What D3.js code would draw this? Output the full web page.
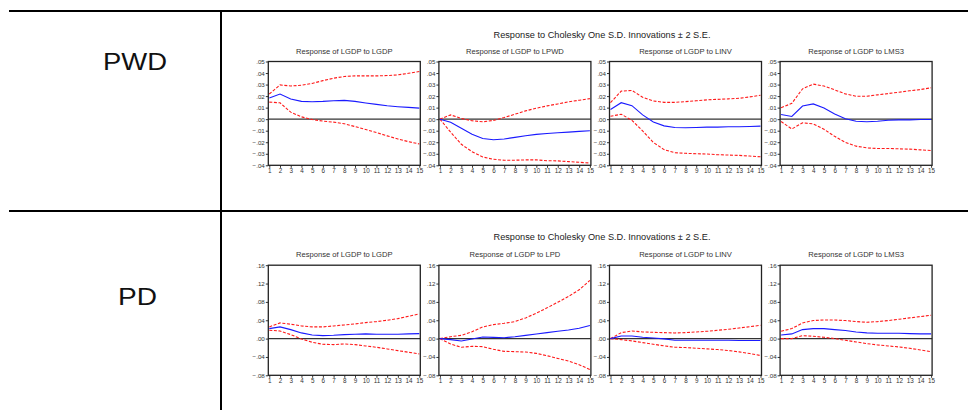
<!DOCTYPE html>
<html>
<head>
<meta charset="utf-8">
<script src="https://cdn.jsdelivr.net/npm/d3@7"></script>
<style>
  body { margin: 0; background: #fff; }
  text { font-family: "Liberation Sans", Arial, sans-serif; }
</style>
</head>
<body>
<div id="main"></div>
<script>
// ---------------- data --------------------------------------//

let periods = [1, 2, 3, 4, 5, 6, 7, 8, 9, 10, 11, 12, 13, 14, 15];
let rowLabels = ["PWD", "PD"];
let pwdShocks = ["LGDP", "LPWD", "LINV", "LMS3"];
let pdShocks = ["LGDP", "LPD", "LINV", "LMS3"];
let pwdTicks = [-0.04, -0.03, -0.02, -0.01, 0, 0.01, 0.02, 0.03, 0.04, 0.05];
let pdTicks = [-0.08, -0.04, 0, 0.04, 0.08, 0.12, 0.16];

// PWD row: response, upper band, lower band
let pwdResp = [
  [0.0183, 0.0218, 0.0174, 0.0154, 0.0151, 0.0154, 0.0160, 0.0163, 0.0154, 0.0140, 0.0128, 0.0116, 0.0108, 0.0102, 0.0096],
  [0, -0.0026, -0.0078, -0.0130, -0.0167, -0.0178, -0.0172, -0.0158, -0.0144, -0.0132, -0.0124, -0.0118, -0.0112, -0.0106, -0.0100],
  [0.0084, 0.0143, 0.0117, 0.0037, -0.0025, -0.0058, -0.0072, -0.0075, -0.0072, -0.0069, -0.0069, -0.0066, -0.0066, -0.0063, -0.0060],
  [0.0041, 0.0023, 0.0114, 0.0132, 0.0096, 0.0044, 0.0003, -0.0018, -0.0023, -0.0018, -0.0009, -0.0006, -0.0006, -0.0003, -0.0003]
];
let pwdUpper = [
  [0.0218, 0.0297, 0.0288, 0.0294, 0.0310, 0.0334, 0.0355, 0.0370, 0.0375, 0.0375, 0.0375, 0.0378, 0.0384, 0.0398, 0.0413],
  [0, 0.0037, 0.0006, -0.0014, -0.0023, -0.0011, 0.0014, 0.0043, 0.0072, 0.0095, 0.0115, 0.0132, 0.0150, 0.0164, 0.0178],
  [0.0143, 0.0243, 0.0249, 0.0190, 0.0158, 0.0146, 0.0146, 0.0152, 0.0160, 0.0167, 0.0172, 0.0176, 0.0181, 0.0193, 0.0208],
  [0.0099, 0.0137, 0.0263, 0.0304, 0.0287, 0.0254, 0.0219, 0.0199, 0.0199, 0.0211, 0.0222, 0.0234, 0.0246, 0.0257, 0.0272]
];
let pwdLower = [
  [0.0148, 0.0142, 0.0061, 0.0020, -0.0003, -0.0017, -0.0026, -0.0040, -0.0064, -0.0090, -0.0116, -0.0145, -0.0172, -0.0195, -0.0215],
  [0, -0.0112, -0.0218, -0.0282, -0.0328, -0.0348, -0.0356, -0.0356, -0.0353, -0.0353, -0.0360, -0.0362, -0.0368, -0.0374, -0.0380],
  [0.0025, 0.0043, -0.0010, -0.0102, -0.0202, -0.0264, -0.0291, -0.0296, -0.0300, -0.0302, -0.0308, -0.0311, -0.0314, -0.0320, -0.0326],
  [-0.0020, -0.0085, -0.0032, -0.0041, -0.0088, -0.0149, -0.0202, -0.0234, -0.0249, -0.0254, -0.0254, -0.0257, -0.0260, -0.0266, -0.0272]
];

// PD row: response, upper band, lower band
let pdResp = [
  [0.0218, 0.0255, 0.0196, 0.0124, 0.0080, 0.0065, 0.0073, 0.0087, 0.0095, 0.0102, 0.0095, 0.0095, 0.0095, 0.0102, 0.0109],
  [0, -0.0022, -0.0053, -0.0010, 0.0034, 0.0027, 0.0020, 0.0042, 0.0071, 0.0100, 0.0130, 0.0159, 0.0188, 0.0224, 0.0285],
  [0, 0.0058, 0.0058, 0.0029, 0.0014, -0.0007, -0.0036, -0.0036, -0.0036, -0.0036, -0.0036, -0.0036, -0.0043, -0.0043, -0.0043],
  [0.0080, 0.0102, 0.0196, 0.0218, 0.0218, 0.0196, 0.0175, 0.0145, 0.0124, 0.0116, 0.0116, 0.0116, 0.0109, 0.0102, 0.0102]
];
let pdUpper = [
  [0.0255, 0.0342, 0.0313, 0.0276, 0.0255, 0.0255, 0.0276, 0.0298, 0.0320, 0.0349, 0.0371, 0.0400, 0.0436, 0.0487, 0.0538],
  [0, 0.0042, 0.0071, 0.0151, 0.0254, 0.0305, 0.0334, 0.0370, 0.0451, 0.0553, 0.0670, 0.0794, 0.0918, 0.1064, 0.1269],
  [0, 0.0130, 0.0166, 0.0145, 0.0137, 0.0130, 0.0123, 0.0130, 0.0145, 0.0159, 0.0181, 0.0203, 0.0231, 0.0260, 0.0289],
  [0.0160, 0.0218, 0.0342, 0.0393, 0.0407, 0.0407, 0.0393, 0.0371, 0.0356, 0.0371, 0.0393, 0.0422, 0.0451, 0.0480, 0.0509]
];
let pdLower = [
  [0.0182, 0.0167, 0.0087, -0.0007, -0.0080, -0.0124, -0.0131, -0.0116, -0.0131, -0.0160, -0.0189, -0.0225, -0.0262, -0.0298, -0.0335],
  [0, -0.0117, -0.0190, -0.0168, -0.0176, -0.0234, -0.0278, -0.0285, -0.0293, -0.0322, -0.0373, -0.0432, -0.0490, -0.0571, -0.0673],
  [0, -0.0022, -0.0051, -0.0087, -0.0123, -0.0159, -0.0188, -0.0195, -0.0210, -0.0224, -0.0239, -0.0260, -0.0289, -0.0325, -0.0369],
  [0, 0, 0.0065, 0.0051, 0.0029, 0, -0.0036, -0.0073, -0.0109, -0.0138, -0.0160, -0.0182, -0.0211, -0.0247, -0.0284]
];

// ---------------- global formatting vars -----------------//

let width = 968;
let height = 410;
let panelLeft = 268.3;
let panelStep = 170.6;
let panelWidth = 152;

let rows = [
  { label: rowLabels[0], labelX: 135, labelY: 70, labelLen: 64, shocks: pwdShocks, ticks: pwdTicks,
    resp: pwdResp, upper: pwdUpper, lower: pwdLower,
    top: 61.5, bottom: 165.3, titleY: 37.5, domain: [-0.04, 0.05] },
  { label: rowLabels[1], labelX: 137.5, labelY: 305, labelLen: 39, shocks: pdShocks, ticks: pdTicks,
    resp: pdResp, upper: pdUpper, lower: pdLower,
    top: 265.2, bottom: 375.3, titleY: 239.5, domain: [-0.08, 0.16] }
];

let svg = d3.select("#main")
  .append("svg")
  .attr("width", width)
  .attr("height", height)
  .style("display", "block");

svg.append("rect")
  .attr("width", width)
  .attr("height", height)
  .attr("fill", "#fff");

// ---------------- table grid -----------------//

let grid = svg.append("g")
  .attr("stroke", "#000")
  .attr("stroke-width", 2);

grid.append("line").attr("x1", 9).attr("x2", width).attr("y1", 11).attr("y2", 11);
grid.append("line").attr("x1", 9).attr("x2", width).attr("y1", 211).attr("y2", 211);
grid.append("line").attr("x1", 221).attr("x2", 221).attr("y1", 10).attr("y2", height);

// strip leading zero like ".05" / "-.04"
let fmt = function(v) {
  return d3.format(".2f")(v).replace("0.", ".");
};

let lineGen = function(x, y) {
  return d3.line()
    .x((d, i) => x(periods[i]))
    .y(d => y(d));
};

rows.forEach(function(row) {

  // row label is a bit wider than plain Arial in the original
  svg.append("text")
    .attr("x", row.labelX - row.labelLen / 2)
    .attr("y", row.labelY)
    .attr("font-size", 24)
    .attr("fill", "#111")
    .attr("textLength", row.labelLen)
    .attr("lengthAdjust", "spacingAndGlyphs")
    .text(row.label);

  svg.append("text")
    .attr("x", 602)
    .attr("y", row.titleY)
    .attr("text-anchor", "middle")
    .attr("font-size", 9.2)
    .attr("fill", "#222")
    .text("Response to Cholesky One S.D. Innovations \u00b1 2 S.E.");

  let y = d3.scaleLinear()
    .domain(row.domain)
    .range([row.bottom, row.top]);

  row.shocks.forEach(function(shock, k) {
    let left = panelLeft + k * panelStep;
    let x = d3.scaleLinear()
      .domain([1, 15])
      .range([left + 1, left + panelWidth - 1]);

    let g = svg.append("g");

    g.append("text")
      .attr("x", left + panelWidth / 2)
      .attr("y", row.top - 8)
      .attr("text-anchor", "middle")
      .attr("font-size", 7.6)
      .attr("fill", "#333")
      .text("Response of LGDP to " + shock);

    // y axis
    let yAxis = g.append("g")
      .attr("transform", `translate(${left}, 0)`)
      .call(d3.axisLeft(y).tickValues(row.ticks).tickSize(2.5).tickPadding(1).tickFormat(fmt));
    yAxis.select(".domain").remove();
    yAxis.selectAll("text").attr("font-size", 6.2).attr("fill", "#333");
    yAxis.selectAll("line").attr("stroke", "#333");

    // x axis
    let xAxis = g.append("g")
      .attr("transform", `translate(0, ${row.bottom})`)
      .call(d3.axisBottom(x).tickValues(periods).tickSize(2.5).tickPadding(1).tickFormat(d3.format("d")));
    xAxis.select(".domain").remove();
    xAxis.selectAll("text").attr("font-size", 6.3).attr("fill", "#333");
    xAxis.selectAll("line").attr("stroke", "#333");

    // zero line
    g.append("line")
      .attr("x1", left).attr("x2", left + panelWidth)
      .attr("y1", y(0)).attr("y2", y(0))
      .attr("stroke", "#333")
      .attr("stroke-width", 1.1);

    // bands and response
    [row.upper[k], row.lower[k]].forEach(function(band) {
      g.append("path")
        .datum(band)
        .attr("d", lineGen(x, y))
        .attr("fill", "none")
        .attr("stroke", "#ff1a1a")
        .attr("stroke-width", 1.1)
        .attr("stroke-dasharray", "3,1.6");
    });

    g.append("path")
      .datum(row.resp[k])
      .attr("d", lineGen(x, y))
      .attr("fill", "none")
      .attr("stroke", "#1a1aff")
      .attr("stroke-width", 1.1);

    // frame
    g.append("rect")
      .attr("x", left)
      .attr("y", row.top)
      .attr("width", panelWidth)
      .attr("height", row.bottom - row.top)
      .attr("fill", "none")
      .attr("stroke", "#222")
      .attr("stroke-width", 1.3);
  });
});
</script>
</body>
</html>
